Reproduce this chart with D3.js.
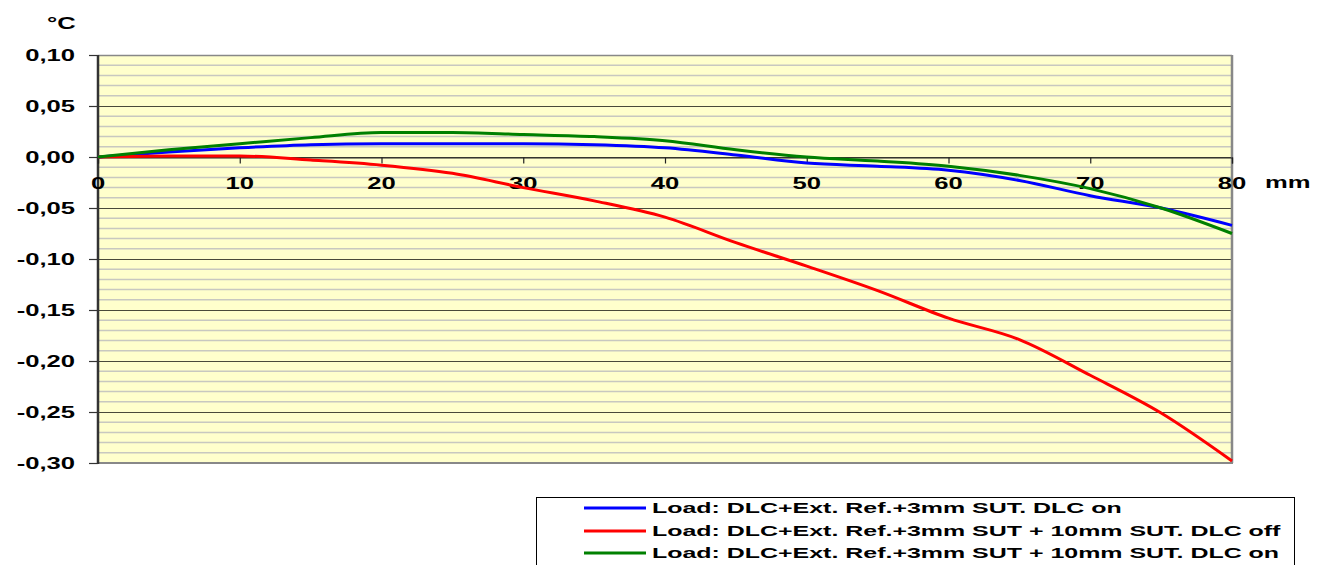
<!DOCTYPE html>
<html>
<head>
<meta charset="utf-8">
<script src="https://cdn.jsdelivr.net/npm/d3@7"></script>
<style>
  html, body { margin: 0; padding: 0; background: #fff; }
  svg { display: block; }
  text { font-family: "Liberation Sans", Arial, sans-serif; font-weight: bold; fill: #000; }
</style>
</head>
<body>
<svg id="chart" width="1325" height="565"></svg>
<script>
// ---- data ----
const xValues = [0, 5, 10, 15, 20, 25, 30, 35, 40, 45, 50, 55, 60, 65, 70, 75, 80];
const blueValues  = [0, 0.005, 0.009, 0.012, 0.013, 0.013, 0.013, 0.012, 0.009, 0.002, -0.006, -0.009, -0.013, -0.023, -0.038, -0.050, -0.067];
const redValues   = [0, 0.001, 0.001, -0.003, -0.008, -0.016, -0.030, -0.043, -0.059, -0.084, -0.107, -0.131, -0.158, -0.179, -0.214, -0.251, -0.298];
const greenValues = [0, 0.007, 0.013, 0.019, 0.024, 0.024, 0.022, 0.020, 0.016, 0.007, 0.000, -0.004, -0.009, -0.018, -0.031, -0.050, -0.075];
const seriesNames = [
  "Load: DLC+Ext. Ref.+3mm SUT. DLC on",
  "Load: DLC+Ext. Ref.+3mm SUT + 10mm SUT. DLC off",
  "Load: DLC+Ext. Ref.+3mm SUT + 10mm SUT. DLC on"
];
const seriesColors = ["#0000FF", "#FF0000", "#008000"];
const xTicks = [0, 10, 20, 30, 40, 50, 60, 70, 80];
const yTicks = [0.10, 0.05, 0.00, -0.05, -0.10, -0.15, -0.20, -0.25, -0.30];
const yUnit = "°C";
const xUnit = "mm";

const series = [blueValues, redValues, greenValues].map((vals, i) => ({
  name: seriesNames[i], color: seriesColors[i],
  points: vals.map((v, j) => ({ x: xValues[j], y: v }))
}));

// ---- layout ----
const svg = d3.select("#chart");
const L = 98, R = 1232, T = 55, B = 463;
const x = d3.scaleLinear().domain([0, 80]).range([L, R]);
const y = d3.scaleLinear().domain([-0.30, 0.10]).range([B, T]);
const SX = 1.6; // horizontal stretch of labels

// plot background
svg.append("rect").attr("x", L).attr("y", T).attr("width", R - L).attr("height", B - T)
  .attr("fill", "#FFFFCC");

// minor gridlines
const minor = d3.range(-30, 11).filter(k => k % 5 !== 0).map(k => k / 100);
svg.append("g").selectAll("line").data(minor).join("line")
  .attr("x1", L).attr("x2", R)
  .attr("y1", d => y(d)).attr("y2", d => y(d))
  .attr("stroke", "#C8C8C0").attr("stroke-width", 1.5);

// major gridlines
svg.append("g").selectAll("line").data(yTicks.filter(d => d < 0.099 && d > -0.299)).join("line")
  .attr("x1", L).attr("x2", R)
  .attr("y1", d => Math.round(y(d)) + 0.5).attr("y2", d => Math.round(y(d)) + 0.5)
  .attr("stroke", "#4a4a3a").attr("stroke-width", 1);

// border
svg.append("line").attr("x1", L).attr("x2", R).attr("y1", T + 0.5).attr("y2", T + 0.5)
  .attr("stroke", "#888").attr("stroke-width", 1.5);
svg.append("line").attr("x1", L).attr("x2", R + 1).attr("y1", B).attr("y2", B)
  .attr("stroke", "#888").attr("stroke-width", 2);
svg.append("line").attr("x1", R).attr("x2", R).attr("y1", T).attr("y2", B)
  .attr("stroke", "#888").attr("stroke-width", 2.5);

// y axis
const yAxis = d3.axisLeft(y).tickValues(yTicks).tickSize(9).tickFormat("");
const gy = svg.append("g").attr("transform", `translate(${L},0)`).call(yAxis);
gy.select(".domain").remove();
gy.selectAll(".tick line").attr("stroke", "#333").attr("stroke-width", 1.2);
svg.append("line").attr("x1", L).attr("x2", L).attr("y1", T).attr("y2", B + 1)
  .attr("stroke", "#333").attr("stroke-width", 2.5);

const fmtY = d => d3.format(".2f")(d).replace(".", ",").replace("−", "-");
svg.append("g").selectAll("text").data(yTicks).join("text")
  .attr("transform", d => `translate(75,${y(d)}) scale(${SX},1)`)
  .attr("text-anchor", "end").attr("dy", "0.36em")
  .attr("font-size", 16).text(fmtY);

// x axis at y=0
const xAxis = d3.axisBottom(x).tickValues(xTicks).tickSize(6).tickFormat("");
const gx = svg.append("g").attr("transform", `translate(0,${Math.round(y(0)) + 0.5})`).call(xAxis);
gx.select(".domain").attr("stroke", "#222").attr("stroke-width", 1.2);
gx.selectAll(".tick line").attr("stroke", "#222").attr("stroke-width", 1.2);

svg.append("g").selectAll("text").data(xTicks).join("text")
  .attr("transform", d => `translate(${x(d)},189) scale(${SX},1)`)
  .attr("text-anchor", "middle")
  .attr("font-size", 16).text(d => d);

// units
svg.append("text").attr("transform", `translate(47,29) scale(${SX},1)`)
  .attr("font-size", 16).text(yUnit);
svg.append("text").attr("transform", `translate(1265,188) scale(${SX},1)`)
  .attr("font-size", 16).text(xUnit);

// lines
const line = d3.line().x(d => x(d.x)).y(d => y(d.y)).curve(d3.curveMonotoneX);
svg.append("g").selectAll("path").data(series).join("path")
  .attr("d", d => line(d.points))
  .attr("fill", "none").attr("stroke", d => d.color).attr("stroke-width", 3)
  .attr("stroke-linejoin", "round");

// legend
const lg = svg.append("g");
lg.append("rect").attr("x", 536.5).attr("y", 497.5).attr("width", 758).attr("height", 90)
  .attr("fill", "#fff").attr("stroke", "#000").attr("stroke-width", 1);
const rowY = [508, 531, 553];
series.forEach((s, i) => {
  lg.append("line").attr("x1", 584).attr("x2", 646).attr("y1", rowY[i]).attr("y2", rowY[i])
    .attr("stroke", s.color).attr("stroke-width", 3);
  lg.append("text").attr("class", "lgt")
    .attr("x", 0).attr("y", 0)
    .attr("transform", `translate(652,${rowY[i] + 5})`)
    .attr("font-size", 14).text(s.name);
});
// stretch legend text horizontally so the longest row matches the reference width
const texts = lg.selectAll("text.lgt").nodes();
const w2 = texts[1].getComputedTextLength();
const s = 629 / w2;
texts.forEach((t, i) => {
  d3.select(t).attr("transform", `translate(652,${rowY[i] + 5}) scale(${s},1)`);
});
</script>
</body>
</html>
